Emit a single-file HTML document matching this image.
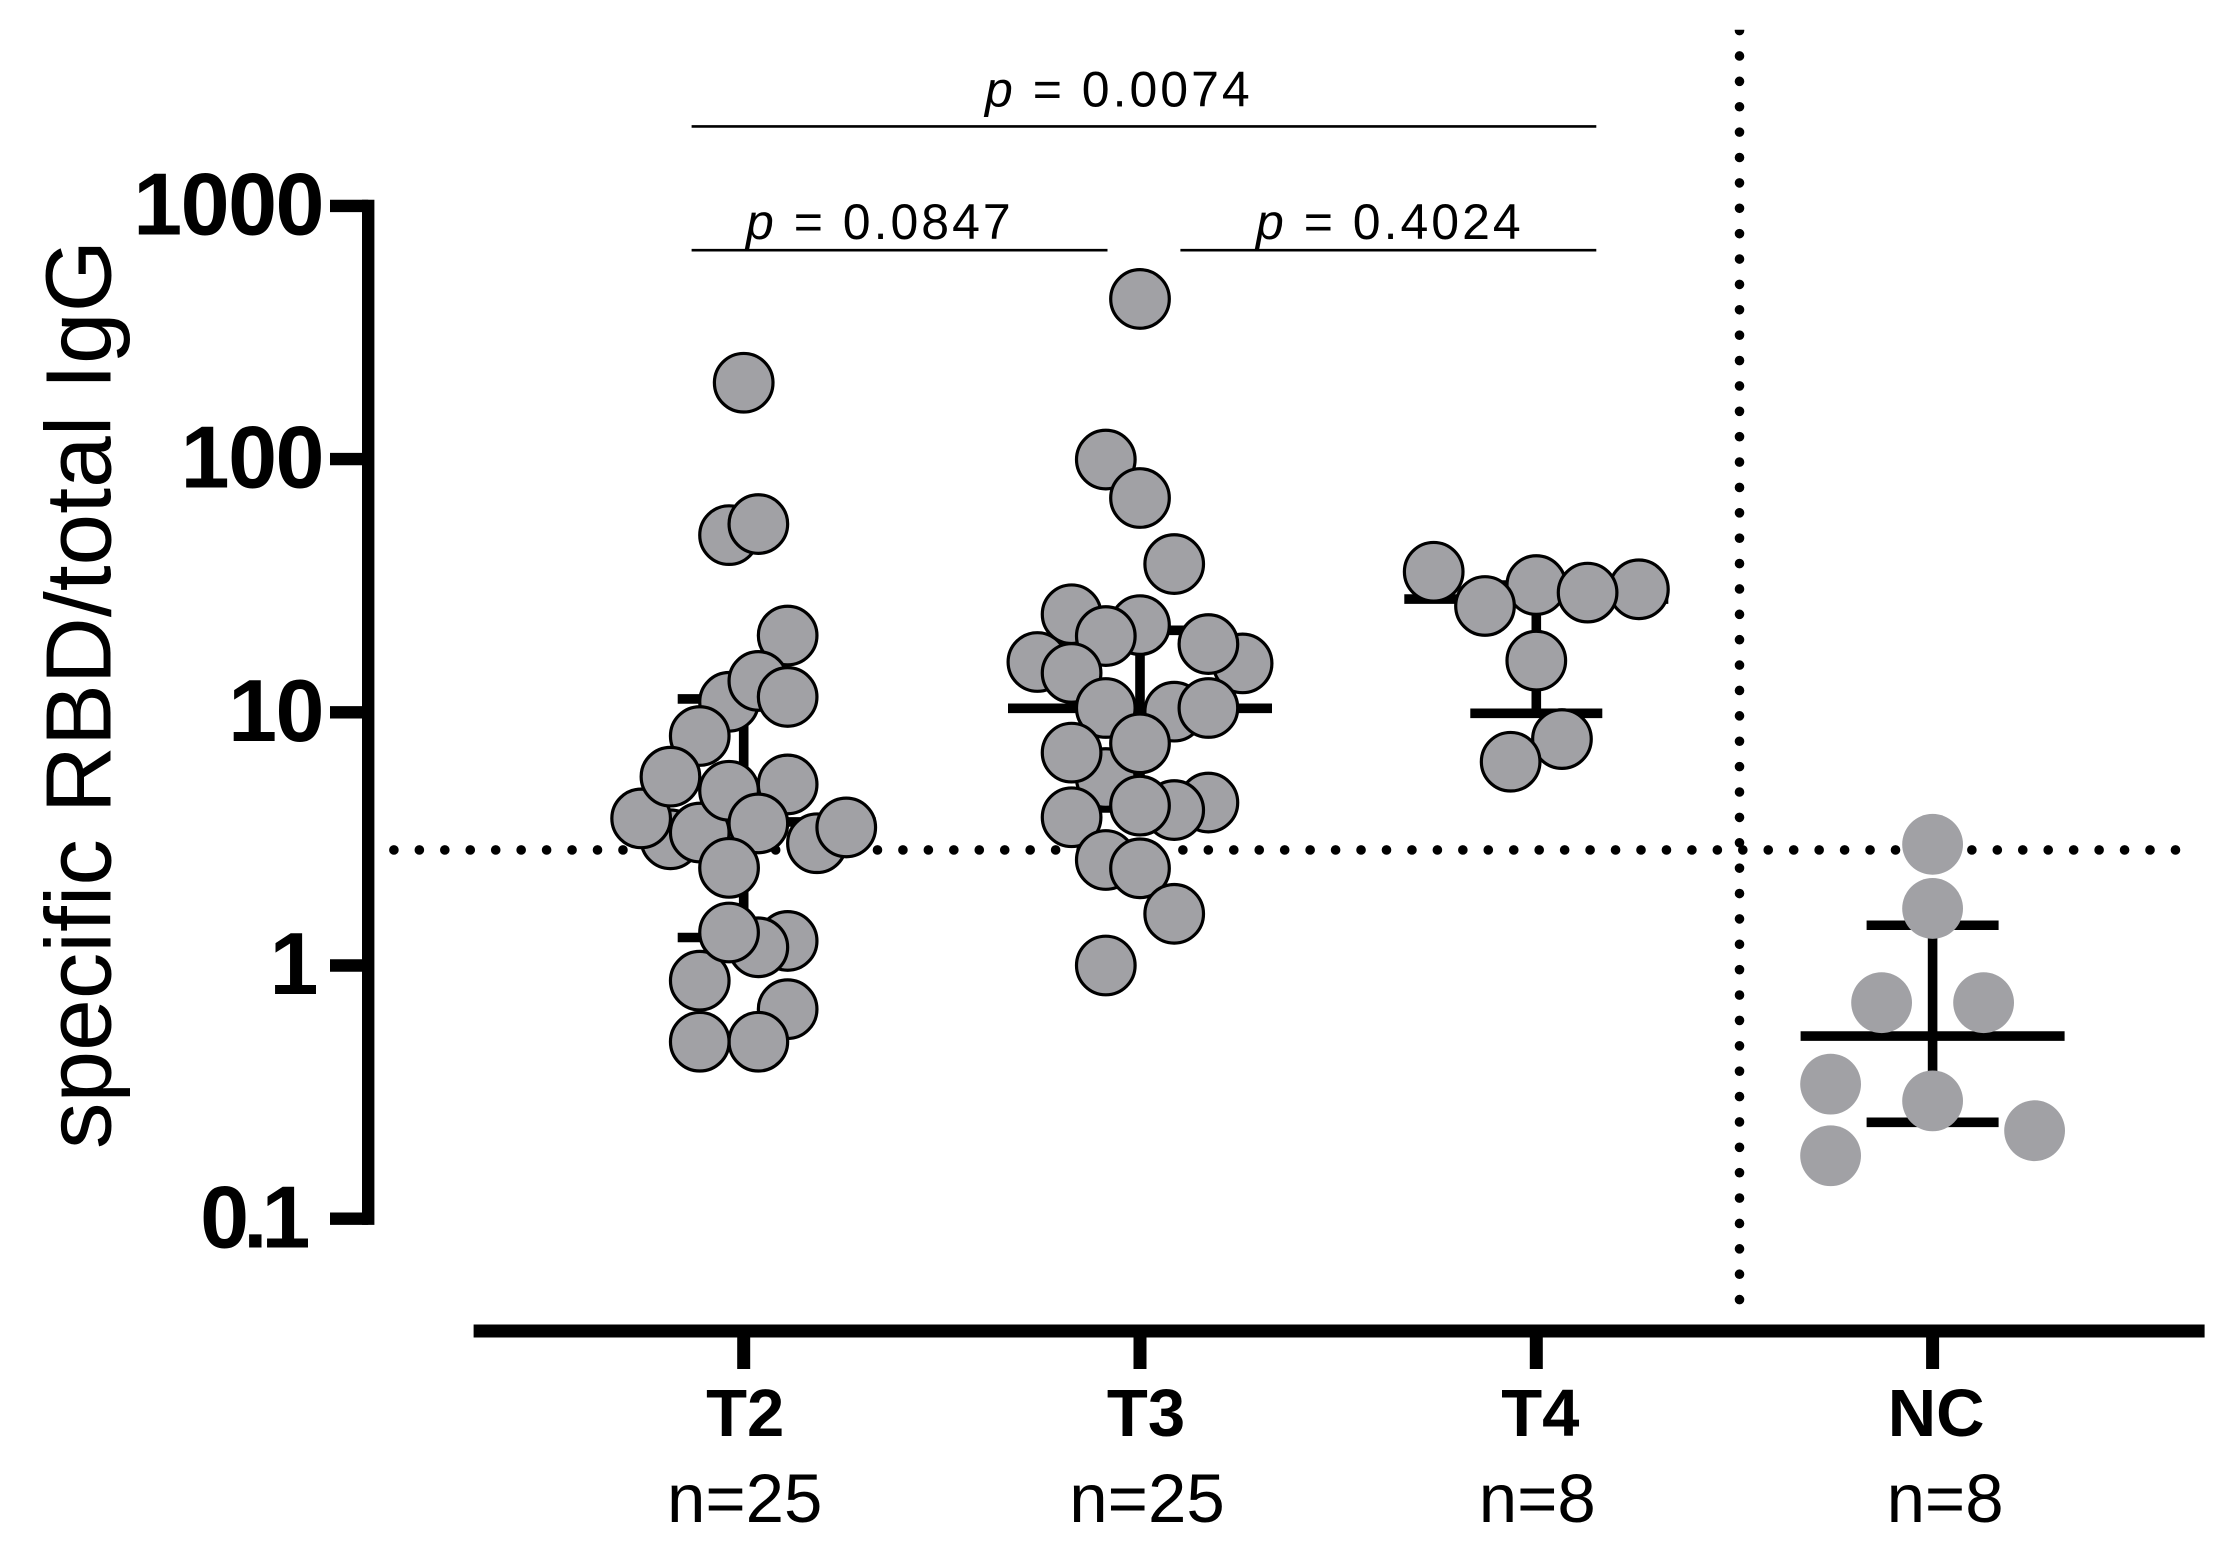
<!DOCTYPE html>
<html lang="en">
<head>
<meta charset="utf-8">
<title>Specific RBD/total IgG</title>
<style>
  html,body{margin:0;padding:0;background:#fff;}
  body{width:2233px;height:1553px;overflow:hidden;}
  svg{display:block;}
  text{font-family:"Liberation Sans",Arial,sans-serif;fill:#000;}
</style>
</head>
<body>
<svg id="chart" xmlns="http://www.w3.org/2000/svg" width="2233" height="1553" viewBox="0 0 2233 1553">
  <defs>
    <clipPath id="v-clip"><rect x="1720" y="29.7" width="40" height="1290"/></clipPath>
  </defs>
  <rect x="0" y="0" width="2233" height="1553" fill="#ffffff"/>
  <g id="reference-lines"></g>
  <g id="error-bars"></g>
  <g id="points"></g>
  <g id="axes"></g>

  <text transform="translate(110.4 1149) rotate(-90)" font-size="93" textLength="909" lengthAdjust="spacingAndGlyphs">specific RBD/total IgG</text>

  <g>
    <line x1="691.6" x2="1596.3" y1="126.4" y2="126.4" stroke="#000" stroke-width="2.6"/>
    <line x1="691.6" x2="1107.5" y1="250.2" y2="250.2" stroke="#000" stroke-width="2.6"/>
    <line x1="1180.4" x2="1596.3" y1="250.2" y2="250.2" stroke="#000" stroke-width="2.6"/>
    <text x="985" y="106.5" font-size="50" letter-spacing="3"><tspan font-style="italic">p</tspan> = 0.0074</text>
    <text x="746" y="239" font-size="50" letter-spacing="3"><tspan font-style="italic">p</tspan> = 0.0847</text>
    <text x="1256" y="239" font-size="50" letter-spacing="3"><tspan font-style="italic">p</tspan> = 0.4024</text>
  </g>
</svg>
<script>
// ---- chart data ----
const categories = ['T2', 'T3', 'T4', 'NC'];
const sampleLabels = ['n=25', 'n=25', 'n=8', 'n=8'];
const yTickValues = [1000, 100, 10, 1, 0.1];
const yTickLabels = ['1000', '100', '10', '1', '0.1'];
const thresholdValue = 2.86;

const t2Values = [200.3, 50.1, 55.4, 20.1, 11.0, 13.3, 11.5, 8.06, 5.19, 3.15, 3.81, 3.35, 4.90, 5.57, 3.64, 3.04, 3.51, 2.43, 1.25, 1.18, 0.871, 1.35, 0.672, 0.500, 0.500];
const t2Slots  = [0, -1, 1, 3, -1, 1, 3, -3, 3, -5, -7, -3, -1, -5, 1, 5, 7, -1, 3, 1, -3, -1, 3, 1, -3];

const t3Values = [429, 99.6, 70.2, 38.5, 15.6, 18.6, 24.4, 22.1, 20.0, 15.8, 14.3, 10.4, 10.06, 10.4, 5.50, 6.93, 7.54, 4.40, 4.11, 4.28, 3.85, 2.61, 2.42, 1.60, 1.00];
const t3Slots  = [0, -1, 0, 1, 3, 2, -2, 0, -1, -3, -2, -1, 1, 2, -1, -2, 0, 2, 1, 0, -2, -1, 0, 1, -1];

const t4Values = [30.6, 31.8, 29.7, 35.9, 26.3, 16.0, 7.84, 6.38];
const t4Slots  = [4, 0, 2, -4, -2, 0, 1, -1];

const ncValues = [3.01, 1.68, 0.713, 0.713, 0.340, 0.292, 0.2226, 0.1773];
const ncSlots  = [0, 0, -2, 2, -4, 0, 4, -4];

const medians   = [3.69, 10.37, 28.0, 0.5266];
const upperCaps = [11.29, 21.08, 31.8, 1.442];
const lowerCaps = [1.29, 4.19, 9.91, 0.2402];

// ---- axis functions ----
const Y_AT_ONE = 965.5, DECADE_PX = 253.2;
function yScale(v) { return Y_AT_ONE - DECADE_PX * Math.log10(v); }
const X_FIRST = 743.7, X_STEP = 396.3;
function xScale(i) { return X_FIRST + X_STEP * i; }

const NS = 'http://www.w3.org/2000/svg';
function make(parent, tag, attrs) {
  const el = document.createElementNS(NS, tag);
  for (const k in attrs) el.setAttribute(k, attrs[k]);
  parent.appendChild(el);
  return el;
}

const groupSeries = [
  { values: t2Values, slots: t2Slots, step: 14.65, outlined: true, catShift: 1.5, nShift: 1 },
  { values: t3Values, slots: t3Slots, step: 34.2,  outlined: true, catShift: 6, nShift: 7 },
  { values: t4Values, slots: t4Slots, step: 25.65, outlined: true, catShift: 4, nShift: 1 },
  { values: ncValues, slots: ncSlots, step: 25.5,  outlined: false, catShift: 3.5, nShift: 12.5 }
];

// reference lines
const refG = document.getElementById('reference-lines');
const thresholdLine = make(refG, 'line', { x1: 393.9, x2: 2176.5, y1: yScale(thresholdValue), y2: yScale(thresholdValue), stroke: '#000', 'stroke-width': 9.6, 'stroke-linecap': 'round', 'stroke-dasharray': '0.01 25.441' });


const dividerLine = make(refG, 'line', { x1: 1739.5, x2: 1739.5, y1: 30.6, y2: 1300.5, stroke: '#000', 'stroke-width': 9.6, 'stroke-linecap': 'round', 'stroke-dasharray': '0.01 25.37', 'clip-path': 'url(#v-clip)' });



// error bars
const errG = document.getElementById('error-bars');
const MEDIAN_HALF = 132, CAP_HALF = 66;
categories.forEach(function (cat, i) {
  const x = xScale(i);
  const stem = make(errG, 'line', { x1: x, x2: x, y1: yScale(upperCaps[i]), y2: yScale(lowerCaps[i]), stroke: '#000', 'stroke-width': 9.6 });
  
  
  const med = make(errG, 'line', { x1: x - MEDIAN_HALF, x2: x + MEDIAN_HALF, y1: yScale(medians[i]), y2: yScale(medians[i]), stroke: '#000', 'stroke-width': 9.6 });
  
  
  const up = make(errG, 'line', { x1: x - CAP_HALF, x2: x + CAP_HALF, y1: yScale(upperCaps[i]), y2: yScale(upperCaps[i]), stroke: '#000', 'stroke-width': 9.6 });
  
  
  const low = make(errG, 'line', { x1: x - CAP_HALF, x2: x + CAP_HALF, y1: yScale(lowerCaps[i]), y2: yScale(lowerCaps[i]), stroke: '#000', 'stroke-width': 9.6 });
  
  
});

// points
const ptG = document.getElementById('points');
groupSeries.forEach(function (g, i) {
  g.values.forEach(function (v, j) {
    const attrs = { cx: xScale(i) + g.slots[j] * g.step, cy: yScale(v), fill: '#a1a1a5' };
    if (g.outlined) { attrs.r = 29.3; attrs.stroke = '#000'; attrs['stroke-width'] = 3.2; }
    else { attrs.r = 30.4; }
    const c = make(ptG, 'circle', attrs);
    
    
  });
});

// axes
const axG = document.getElementById('axes');
const Y_AXIS_X = 368.2;
const yAxis = make(axG, 'line', { x1: Y_AXIS_X, x2: Y_AXIS_X, y1: yScale(1000) - 6.2, y2: yScale(0.1) + 6.2, stroke: '#000', 'stroke-width': 12.4 });


yTickValues.forEach(function (v, i) {
  const label = yTickLabels[i];
  const endsInOne = label.charAt(label.length - 1) === '1';
  const labelX = !endsInOne ? 323 : (label.length > 1 ? 304.5 : 317);
  const labelSpacing = endsInOne && label.length > 1 ? '-6' : '-1.5';
  const t = make(axG, 'line', { x1: 330, x2: Y_AXIS_X, y1: yScale(v), y2: yScale(v), stroke: '#000', 'stroke-width': 12.4 });
  
  
  const lab = make(axG, 'text', { x: labelX, y: yScale(v) + 28.6, 'text-anchor': 'end', 'font-size': 88, 'font-weight': 'bold', 'letter-spacing': labelSpacing });
  lab.textContent = label;
  
  
});

const xAxis = make(axG, 'line', { x1: 473.6, x2: 2204.6, y1: 1331, y2: 1331, stroke: '#000', 'stroke-width': 13 });


const catY = 1436, nY = 1521.8;
categories.forEach(function (cat, i) {
  const x = xScale(i);
  const t = make(axG, 'line', { x1: x, x2: x, y1: 1331, y2: 1369, stroke: '#000', 'stroke-width': 13 });
  
  
  const lab = make(axG, 'text', { x: x + groupSeries[i].catShift, y: catY, 'text-anchor': 'middle', 'font-size': 67, 'font-weight': 'bold' });
  lab.textContent = cat;
  
  
  const n = make(axG, 'text', { x: x + groupSeries[i].nShift, y: nY, 'text-anchor': 'middle', 'font-size': 69 });
  n.textContent = sampleLabels[i];
  
  
});
</script>
</body>
</html>
